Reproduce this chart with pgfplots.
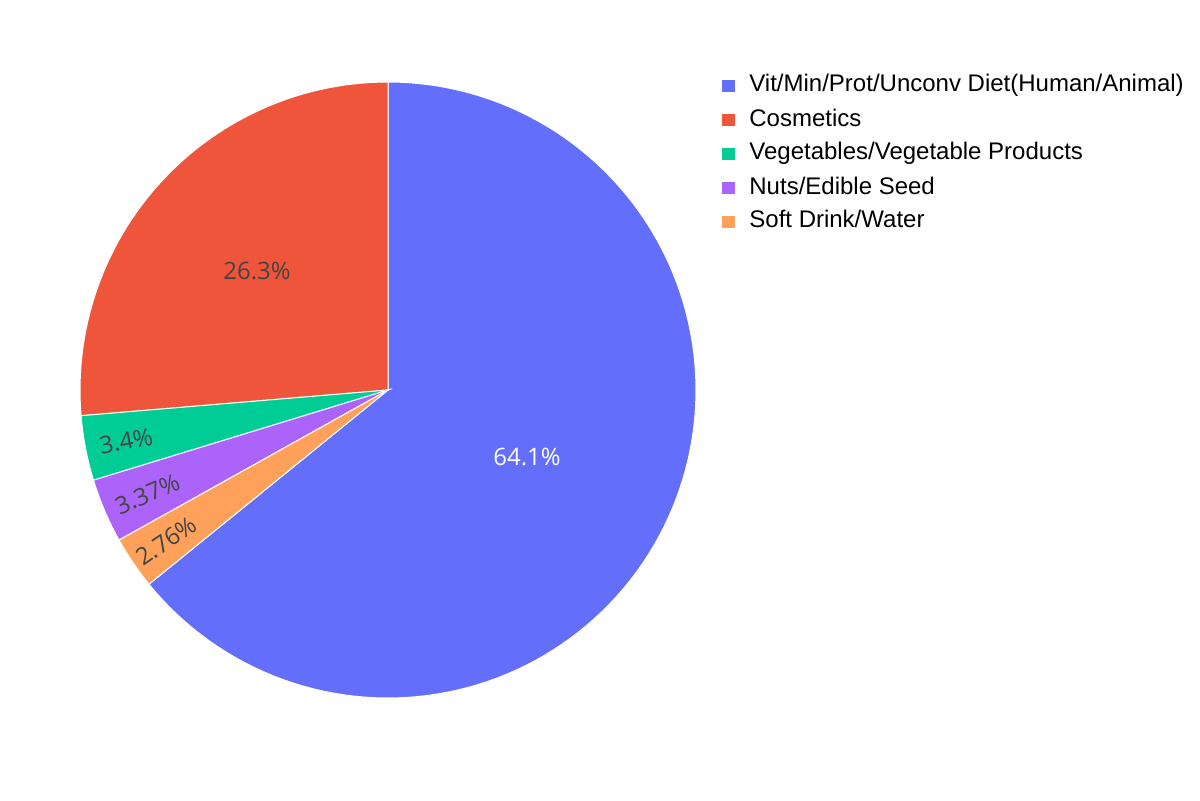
\documentclass[border=0pt]{standalone}
\usepackage{pgfplots}
\pgfplotsset{compat=1.18}
\usepackage{fontspec}
\setmainfont{Liberation Sans}
\newfontfamily\osans{Open Sans}
\definecolor{cVit}{HTML}{636EFA}
\definecolor{cCos}{HTML}{EF553B}
\definecolor{cVeg}{HTML}{00CC96}
\definecolor{cNut}{HTML}{AB63FA}
\definecolor{cSoft}{HTML}{FFA15A}
\definecolor{lbl}{HTML}{444444}
\begin{document}
\begin{tikzpicture}
% shares in percent
\def\vVit{64.14}
\def\vCos{26.33}
\def\vVeg{3.40}
\def\vNut{3.37}
\def\vSoft{2.76}
% angles: counterclockwise from the top, Cosmetics first
\pgfmathsetmacro{\aA}{90}
\pgfmathsetmacro{\aB}{\aA+3.6*\vCos}
\pgfmathsetmacro{\aC}{\aB+3.6*\vVeg}
\pgfmathsetmacro{\aD}{\aC+3.6*\vNut}
\pgfmathsetmacro{\aE}{\aD+3.6*\vSoft}
\pgfmathsetmacro{\aF}{\aE+3.6*\vVit}
\begin{axis}[
  width=600pt, height=400pt, scale only axis,
  xmin=0, xmax=1200, ymin=0, ymax=800,
  hide axis, clip=false,
  legend style={at={(axis cs:722,726)}, anchor=north west, draw=none, fill=none,
    inner sep=0pt, font=\fontsize{12}{14}\selectfont, row sep=5.5pt,
    nodes={inner sep=0pt, text height=8.8pt, text depth=2.7pt},
    /tikz/every odd column/.append style={column sep=7.3pt}},
  legend cell align=left,
  legend image code/.code={\fill[#1,draw=none] (0pt,-3.1pt) rectangle (6.2pt,3.1pt);},
]
\coordinate (bl) at (rel axis cs:0,0);
\coordinate (tr) at (rel axis cs:1,1);
\addplot[fill=cVit, draw=white, line width=0.5pt, domain=\aE:\aF, samples=120, variable=\t]
  ({388+308*cos(t)},{410+308*sin(t)}) -- (axis cs:388,410) -- cycle;
\addlegendentry{Vit/Min/Prot/Unconv Diet(Human/Animal)}
\addplot[fill=cCos, draw=white, line width=0.5pt, domain=\aA:\aB, samples=60, variable=\t]
  ({388+308*cos(t)},{410+308*sin(t)}) -- (axis cs:388,410) -- cycle;
\addlegendentry{Cosmetics}
\addplot[fill=cVeg, draw=white, line width=0.5pt, domain=\aB:\aC, samples=20, variable=\t]
  ({388+308*cos(t)},{410+308*sin(t)}) -- (axis cs:388,410) -- cycle;
\addlegendentry{Vegetables/Vegetable Products}
\addplot[fill=cNut, draw=white, line width=0.5pt, domain=\aC:\aD, samples=20, variable=\t]
  ({388+308*cos(t)},{410+308*sin(t)}) -- (axis cs:388,410) -- cycle;
\addlegendentry{Nuts/Edible Seed}
\addplot[fill=cSoft, draw=white, line width=0.5pt, domain=\aD:\aE, samples=20, variable=\t]
  ({388+308*cos(t)},{410+308*sin(t)}) -- (axis cs:388,410) -- cycle;
\addlegendentry{Soft Drink/Water}
\node[font=\osans\fontsize{12}{14}\selectfont, text=white] at (axis cs:527,343) {64.1\%};
\node[font=\osans\fontsize{12}{14}\selectfont, text=lbl] at (axis cs:257,529) {26.3\%};
\node[font=\osans\fontsize{12}{14}\selectfont, text=lbl, rotate=10.9, inner sep=0pt] at (axis cs:126,359) {3.4\%};
\node[font=\osans\fontsize{12}{14}\selectfont, text=lbl, rotate=23.1, inner sep=0pt] at (axis cs:147.5,306) {3.37\%};
\node[font=\osans\fontsize{12}{14}\selectfont, text=lbl, rotate=34.2, inner sep=0pt] at (axis cs:166.5,259) {2.76\%};
\end{axis}
\pgfresetboundingbox
\path (bl) rectangle (tr);
\end{tikzpicture}
\end{document}
